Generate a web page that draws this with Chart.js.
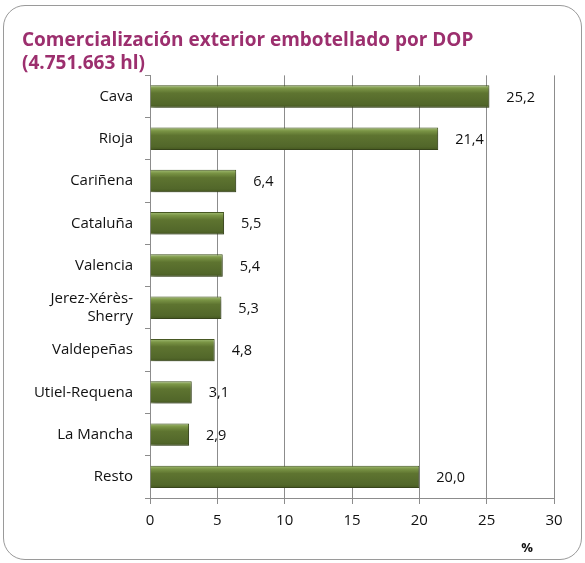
<!DOCTYPE html>
<html>
<head>
<meta charset="utf-8">
<script src="https://cdn.jsdelivr.net/npm/chart.js@4/dist/chart.umd.min.js"></script>
<style>
  body { margin: 0; background: #fff; }
  #wrap { position: relative; width: 585px; height: 563px; }
  #frame { position: absolute; left: 3px; top: 5px; width: 577px; height: 553px; border: 1.5px solid #9a9a9a; border-radius: 22px; }
  canvas { position: absolute; left: 0; top: 0; }
</style>
</head>
<body>
<div id="wrap">
  <div id="frame"></div>
  <canvas id="chart" width="585" height="563"></canvas>
</div>
<script>
// data
const categories = ['Cava', 'Rioja', 'Cariñena', 'Cataluña', 'Valencia', ['Jerez-Xérès-', 'Sherry'], 'Valdepeñas', 'Utiel-Requena', 'La Mancha', 'Resto'];
const shares = [25.2, 21.4, 6.4, 5.5, 5.4, 5.3, 4.8, 3.1, 2.9, 20.0];
const xTicks = [0, 5, 10, 15, 20, 25, 30];
const titleLines = ['Comercialización exterior embotellado por DOP', '(4.751.663 hl)'];

const FONT = "'Open Sans', sans-serif";
const BAR_PCT = 0.53;

function fmt(v) {
    return v.toFixed(1).replace('.', ',');
}

// vertical gradient per bar, worked out from the y scale
function barGradient(context) {
    const chart = context.chart;
    const ys = chart.scales.y;
    if (!chart.chartArea || !ys) return '#566b2c';
    const band = (ys.bottom - ys.top) / categories.length;
    const h = band * BAR_PCT;
    const top = ys.getPixelForValue(context.dataIndex) - h / 2;
    const g = chart.ctx.createLinearGradient(0, top, 0, top + h);
    g.addColorStop(0, '#a4bf76');
    g.addColorStop(0.15, '#7a9445');
    g.addColorStop(0.35, '#5e7430');
    g.addColorStop(0.85, '#52672a');
    g.addColorStop(1, '#44561f');
    return g;
}

// soft drop shadow under the bars
const barShadow = {
    id: 'barShadow',
    beforeDatasetsDraw(chart) {
        const ctx = chart.ctx;
        ctx.save();
        ctx.shadowColor = 'rgba(0,0,0,0.35)';
        ctx.shadowBlur = 4;
        ctx.shadowOffsetX = 2;
        ctx.shadowOffsetY = 2;
    },
    afterDatasetsDraw(chart) {
        chart.ctx.restore();
    }
};

// value labels and the "%" axis title
const valueLabels = {
    id: 'valueLabels',
    afterDraw(chart) {
        const ctx = chart.ctx;
        ctx.save();
        ctx.font = '14.5px ' + FONT;
        ctx.fillStyle = '#111';
        ctx.textBaseline = 'middle';
        ctx.textAlign = 'left';
        chart.getDatasetMeta(0).data.forEach((bar, i) => {
            ctx.fillText(fmt(shares[i]), bar.x + 17, bar.y + 1);
        });
        const xs = chart.scales.x;
        ctx.textAlign = 'center';
        ctx.font = 'bold 13px ' + FONT;
        ctx.fillText('%', xs.getPixelForValue(28), 548);
        ctx.restore();
    }
};

new Chart(document.getElementById('chart'), {
    type: 'bar',
    data: {
        labels: categories,
        datasets: [{
            data: shares,
            backgroundColor: barGradient,
            borderColor: '#4a5c24',
            borderWidth: 1,
            barPercentage: BAR_PCT,
            categoryPercentage: 1
        }]
    },
    options: {
        indexAxis: 'y',
        responsive: false,
        animation: false,
        layout: { padding: { left: 22, right: 31, top: 29, bottom: 0 } },
        plugins: {
            legend: { display: false },
            tooltip: { enabled: false },
            title: {
                display: true,
                text: titleLines,
                align: 'start',
                color: '#9c2f6e',
                font: { family: FONT, size: 19, weight: 'bold', lineHeight: 1.22 },
                padding: { top: 0, bottom: 0 }
            }
        },
        scales: {
            x: {
                min: 0,
                max: 30,
                afterBuildTicks: axis => { axis.ticks = xTicks.map(v => ({ value: v })); },
                afterFit: axis => { axis.height = 65; },
                grid: { color: '#8c8c8c', lineWidth: 1, tickLength: 6 },
                border: { color: '#8c8c8c' },
                ticks: { color: '#111', font: { family: FONT, size: 15 }, padding: 8 }
            },
            y: {
                afterFit: axis => { axis.width = 128; },
                grid: { offset: true, drawOnChartArea: false, color: '#8c8c8c', tickLength: 5 },
                border: { color: '#8c8c8c' },
                ticks: { color: '#111', font: { family: FONT, size: 15 }, padding: 12, autoSkip: false }
            }
        }
    },
    plugins: [barShadow, valueLabels]
});
</script>
</body>
</html>
